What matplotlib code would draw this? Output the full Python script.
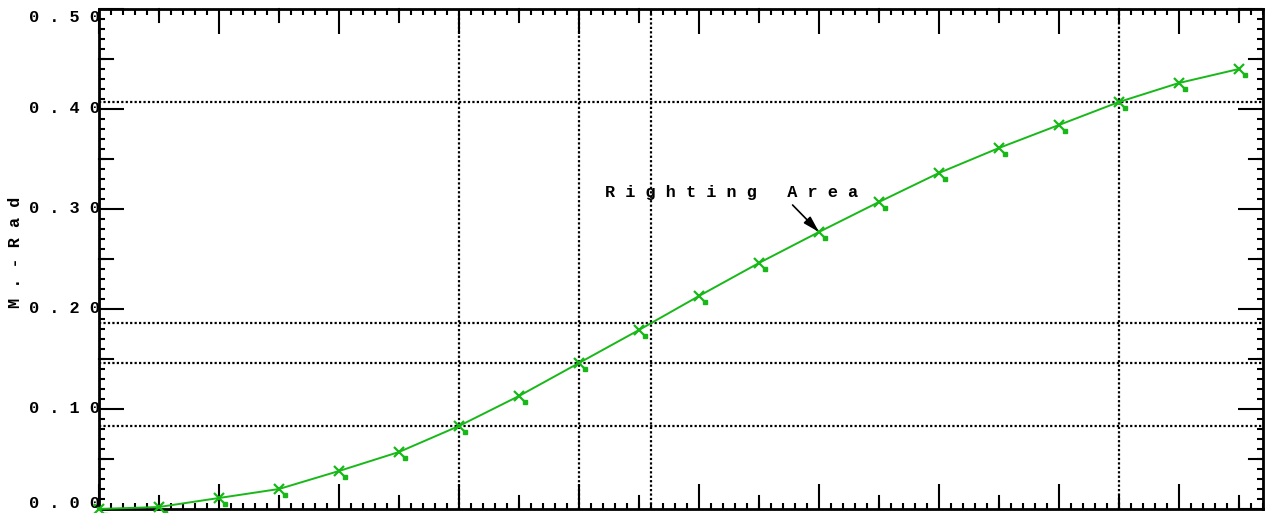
import matplotlib
matplotlib.use("Agg")
import matplotlib.pyplot as plt
import numpy as np
from matplotlib.ticker import MultipleLocator
from matplotlib.transforms import ScaledTranslation

# heel angle (deg) and righting arm area (m-rad)
heel = [0, 5, 10, 15, 20, 25, 30, 35, 40, 45,
        50, 55, 60, 65, 70, 75, 80, 85, 90, 95]
area = [0.000, 0.002, 0.011, 0.020, 0.038, 0.057, 0.083, 0.113, 0.146, 0.179,
        0.213, 0.246, 0.277, 0.307, 0.336, 0.361, 0.384, 0.407, 0.426, 0.440]

# angles marked with cross lines
ref_heel = [30, 40, 46, 85]

y_ticks = [0.0, 0.1, 0.2, 0.3, 0.4, 0.5]
y_tick_labels = ["0.00", "0.10", "0.20", "0.30", "0.40", "0.50"]
y_title = "M.-Rad"
note = "Righting Area"
note_xy = (42.2, 0.316)
arrow_tail = (57.8, 0.304)
arrow_head = (60, 0.277)

GREEN = "#18b818"
FONT = dict(family=["Liberation Mono", "DejaVu Sans Mono"], weight="bold", size=12.2)
DOTTED = (0, (1, 1))


def spaced(s):
    return " ".join(s)


fig = plt.figure(figsize=(12.66, 5.13), dpi=100)
ax = fig.add_axes([0.0782, 0.0078, 0.9194, 0.9747])
ax.set_xlim(0, 97)
ax.set_ylim(0, 0.5)

for sp in ax.spines.values():
    sp.set_linestyle(DOTTED)
    sp.set_linewidth(2)

ax.xaxis.set_major_locator(MultipleLocator(10))
ax.xaxis.set_minor_locator(MultipleLocator(1))
ax.yaxis.set_major_locator(MultipleLocator(0.1))
ax.yaxis.set_minor_locator(MultipleLocator(0.01))
ax.tick_params(which="both", direction="in", top=True, right=True,
               labelbottom=False, labelleft=False, width=1.5, color="k")
ax.tick_params(which="major", length=18)
ax.tick_params(which="minor", length=4.3)

# half-step ticks, medium length
xt = ax.get_xaxis_transform()
yt = ax.get_yaxis_transform()
for x in np.arange(5, 97, 10):
    ax.plot([x, x], [0, 0.026], transform=xt, color="k", lw=1.5, clip_on=False)
    ax.plot([x, x], [1, 0.974], transform=xt, color="k", lw=1.5, clip_on=False)
for y in np.arange(0.05, 0.5, 0.1):
    ax.plot([0, 0.012], [y, y], transform=yt, color="k", lw=1.5, clip_on=False)
    ax.plot([1, 0.988], [y, y], transform=yt, color="k", lw=1.5, clip_on=False)

# cross lines through the curve
for x in ref_heel:
    ax.axvline(x, color="k", ls=DOTTED, lw=1.6, zorder=1)
    ax.axhline(np.interp(x, heel, area), color="k", ls=DOTTED, lw=1.6, zorder=1)

ax.plot(heel, area, color=GREEN, lw=1.4, marker="x", ms=7, mew=1.6,
        clip_on=False, zorder=3)
shift = ScaledTranslation(0.06, -0.06, fig.dpi_scale_trans)
ax.plot(heel, area, ls="none", marker="s", ms=2.2, color=GREEN,
        transform=ax.transData + shift, clip_on=False, zorder=3)

for v, lab in zip(y_ticks, y_tick_labels):
    dy = 0
    if v == y_ticks[-1]:
        dy = -6
    elif v == y_ticks[0]:
        dy = 4.3
    ax.annotate(spaced(lab), xy=(0.001, v), xycoords=yt,
                xytext=(0, dy), textcoords="offset points",
                ha="right", va="center", annotation_clip=False, **FONT)

fig.text(16 / 1266, 1 - 252 / 513, spaced(y_title), rotation=90,
         ha="center", va="center", **FONT)

ax.text(note_xy[0], note_xy[1], spaced(note), ha="left", va="center", **FONT)
ax.annotate("", xy=arrow_head, xytext=arrow_tail,
            arrowprops=dict(arrowstyle="-|>,head_length=0.7,head_width=0.2",
                            color="k", lw=1.2, shrinkA=0, shrinkB=0,
                            mutation_scale=14))

fig.savefig("out.png", dpi=100)
plt.close(fig)
